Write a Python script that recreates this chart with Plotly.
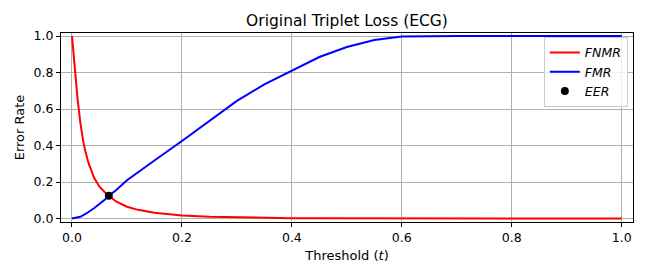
import plotly.graph_objects as go

threshold = [0, 0.005, 0.01, 0.015, 0.02, 0.025, 0.03, 0.04, 0.05, 0.06, 0.067, 0.08,
             0.1, 0.12, 0.15, 0.2, 0.25, 0.3, 0.35, 0.4, 0.45, 0.5, 0.55, 0.6, 0.65,
             0.7, 0.8, 0.9, 1.0]
fnmr = [1.0, 0.82, 0.66, 0.53, 0.43, 0.36, 0.305, 0.225, 0.175, 0.143, 0.125, 0.094,
        0.065, 0.048, 0.032, 0.017, 0.010, 0.006, 0.003, 0.002, 0.0015, 0.001, 0.0005, 0.0, 0.0,
        0.0, 0.0, 0.0, 0.0]
fmr = [0.0, 0.002, 0.005, 0.01, 0.018, 0.026, 0.036, 0.057, 0.08, 0.104, 0.125, 0.155,
       0.21, 0.255, 0.318, 0.425, 0.537, 0.645, 0.735, 0.812, 0.885, 0.94, 0.978, 0.997, 1.0,
       1.0, 1.0, 1.0, 1.0]
eer_t = [0.067]
eer_v = [0.125]

title_text = "Original Triplet Loss (ECG)"
x_label = "Threshold (<i>t</i>)"
y_label = "Error Rate"
tick_vals = [0.0, 0.2, 0.4, 0.6, 0.8, 1.0]
tick_text = ["0.0", "0.2", "0.4", "0.6", "0.8", "1.0"]

fig = go.Figure()
fig.add_trace(go.Scatter(x=threshold, y=fnmr, mode="lines", name="<i>FNMR</i>",
                         line=dict(color="#ff0000", width=2)))
fig.add_trace(go.Scatter(x=threshold, y=fmr, mode="lines", name="<i>FMR</i>",
                         line=dict(color="#0000ff", width=2)))
fig.add_trace(go.Scatter(x=eer_t, y=eer_v, mode="markers", name="<i>EER</i>",
                         marker=dict(color="black", size=8)))

font_family = "DejaVu Sans"
axis_common = dict(
    showgrid=True, gridcolor="#b0b0b0", gridwidth=1,
    showline=True, linecolor="black", linewidth=1, mirror=True,
    ticks="outside", ticklen=4, tickcolor="black", tickwidth=1,
    zeroline=False, tickvals=tick_vals, ticktext=tick_text,
    tickfont=dict(family=font_family, size=12.5, color="black"),
)

fig.update_layout(
    width=648, height=278,
    margin=dict(l=61, r=15, t=33, b=56),
    paper_bgcolor="white", plot_bgcolor="white",
    title=dict(text=title_text, x=0.5355, xanchor="center", y=0.925, yanchor="middle",
               font=dict(family=font_family, size=15.5, color="black")),
    xaxis=dict(range=[-0.02, 1.0206],
               title=dict(text=x_label, font=dict(family=font_family, size=13, color="black"), standoff=6),
               **axis_common),
    yaxis=dict(range=[-0.0186, 1.0165],
               title=dict(text=y_label, font=dict(family=font_family, size=13, color="black"), standoff=6),
               **axis_common),
    legend=dict(x=0.991, y=0.979, xanchor="right", yanchor="top",
                bgcolor="rgba(255,255,255,0.8)", bordercolor="#cccccc", borderwidth=1,
                font=dict(family=font_family, size=12.5, color="black"),
                itemwidth=30, tracegroupgap=0),
    showlegend=True,
)

fig.write_html("out.html", config={"displayModeBar": False},
               post_script="document.body.style.margin='0px';")
